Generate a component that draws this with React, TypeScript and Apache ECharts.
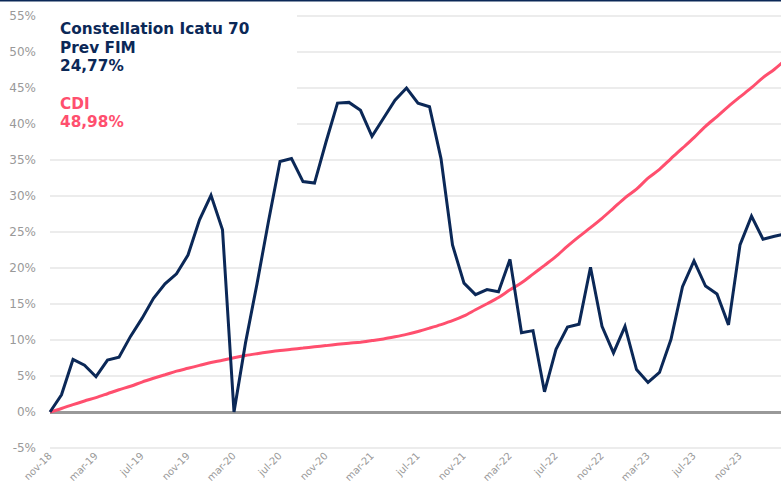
import React, { useEffect, useRef } from "react";
import * as echarts from "echarts";

const months = [
  "nov-18","dez-18","jan-19","fev-19","mar-19","abr-19","mai-19","jun-19","jul-19","ago-19","set-19","out-19",
  "nov-19","dez-19","jan-20","fev-20","mar-20","abr-20","mai-20","jun-20","jul-20","ago-20","set-20","out-20",
  "nov-20","dez-20","jan-21","fev-21","mar-21","abr-21","mai-21","jun-21","jul-21","ago-21","set-21","out-21",
  "nov-21","dez-21","jan-22","fev-22","mar-22","abr-22","mai-22","jun-22","jul-22","ago-22","set-22","out-22",
  "nov-22","dez-22","jan-23","fev-23","mar-23","abr-23","mai-23","jun-23","jul-23","ago-23","set-23","out-23",
  "nov-23","dez-23","jan-24","fev-24","mar-24"
];

const fundValues = [
  0, 2.4, 7.3, 6.5, 4.9, 7.2, 7.6, 10.5, 13.0, 15.8, 17.8, 19.2,
  21.8, 26.7, 30.1, 25.3, 0, 9.6, 17.8, 26.5, 34.8, 35.2, 32.0, 31.8,
  37.5, 42.9, 43.0, 41.9, 38.3, 40.8, 43.3, 45.0, 42.9, 42.4, 35.2, 23.2,
  17.9, 16.3, 17.0, 16.7, 21.2, 11.0, 11.3, 2.8, 8.7, 11.8, 12.2, 20.1,
  11.9, 8.2, 11.9, 5.9, 4.1, 5.5, 10.1, 17.4, 21.0, 17.5, 16.4, 12.1,
  23.2, 27.2, 24.0, 24.4, 24.77
];

const cdiValues = [
  0, 0.49, 1.03, 1.53, 2.0, 2.54, 3.09, 3.57, 4.16, 4.68, 5.17, 5.67,
  6.07, 6.47, 6.87, 7.18, 7.54, 7.85, 8.1, 8.33, 8.54, 8.71, 8.88, 9.06,
  9.22, 9.4, 9.56, 9.7, 9.92, 10.15, 10.45, 10.78, 11.18, 11.65, 12.14, 12.68,
  13.34, 14.2, 15.04, 15.9, 16.97, 17.94, 19.15, 20.37, 21.61, 23.03, 24.35, 25.61,
  26.9, 28.32, 29.75, 30.95, 32.48, 33.7, 35.2, 36.64, 38.11, 39.68, 41.03, 42.45,
  43.76, 45.04, 46.44, 47.61, 48.98
];

const fundName = ["Constellation Icatu 70", "Prev FIM"];
const fundLast = "24,77%";
const cdiName = "CDI";
const cdiLast = "48,98%";

const NAVY = "#0b2857";
const PINK = "#ff4f6e";
const FONT = "DejaVu Sans";
const TITLE_FONT = `bold 15.3px ${FONT}`;

export default function App() {
  const ref = useRef<HTMLDivElement>(null);
  useEffect(() => {
    if (!ref.current) return;
    const chart = echarts.init(ref.current, null, { renderer: "svg" });
    chart.setOption({
      animation: false,
      backgroundColor: "#ffffff",
      grid: { left: 50, right: 0, top: 16, bottom: 41, containLabel: false },
      xAxis: {
        type: "category",
        data: months,
        boundaryGap: false,
        axisLine: { show: false, onZero: false },
        axisTick: { show: false },
        splitLine: { show: false },
        axisLabel: {
          interval: (index: number) => index % 4 === 0 && index < 64,
          rotate: 45,
          color: "#999999",
          fontFamily: FONT,
          fontSize: 10,
          margin: 6,
        },
      },
      yAxis: {
        type: "value",
        min: -5,
        max: 55,
        interval: 5,
        axisLine: { show: false },
        axisTick: { show: false },
        splitLine: { show: true, lineStyle: { color: "#e6e6e6", width: 1.5 } },
        axisLabel: {
          formatter: (v: number) => `${v}%`,
          color: "#999999",
          fontFamily: FONT,
          fontSize: 12,
          margin: 14,
        },
      },
      series: [
        {
          type: "line",
          data: cdiValues,
          showSymbol: false,
          smooth: 0.3,
          lineStyle: { color: PINK, width: 3 },
          itemStyle: { color: PINK },
          z: 3,
          markLine: {
            silent: true,
            symbol: "none",
            label: { show: false },
            lineStyle: { color: "#999999", width: 3, type: "solid" },
            data: [{ yAxis: 0 }],
            z: 1,
          },
        },
        {
          type: "line",
          data: fundValues,
          showSymbol: false,
          lineStyle: { color: NAVY, width: 3, join: "miter" },
          itemStyle: { color: NAVY },
          z: 4,
        },
      ],
      graphic: [
        { type: "rect", left: 0, top: 0, z: 100, shape: { width: 800, height: 1.5 }, style: { fill: NAVY } },
        { type: "rect", x: 48, y: 10, z: 100, shape: { width: 249, height: 120 }, style: { fill: "#ffffff" } },
        { type: "text", x: 60, y: 29, z: 101, style: { text: fundName[0], font: TITLE_FONT, fill: NAVY, verticalAlign: "middle" } },
        { type: "text", x: 60, y: 48, z: 101, style: { text: fundName[1], font: TITLE_FONT, fill: NAVY, verticalAlign: "middle" } },
        { type: "text", x: 60, y: 66, z: 101, style: { text: fundLast, font: TITLE_FONT, fill: NAVY, verticalAlign: "middle" } },
        { type: "text", x: 60, y: 104, z: 101, style: { text: cdiName, font: TITLE_FONT, fill: PINK, verticalAlign: "middle" } },
        { type: "text", x: 60, y: 122, z: 101, style: { text: cdiLast, font: TITLE_FONT, fill: PINK, verticalAlign: "middle" } },
      ],
    });
    return () => chart.dispose();
  }, []);
  return (
    <div
      ref={ref}
      style={{ position: "fixed", left: 0, top: 0, width: 786, height: 489 }}
    />
  );
}
